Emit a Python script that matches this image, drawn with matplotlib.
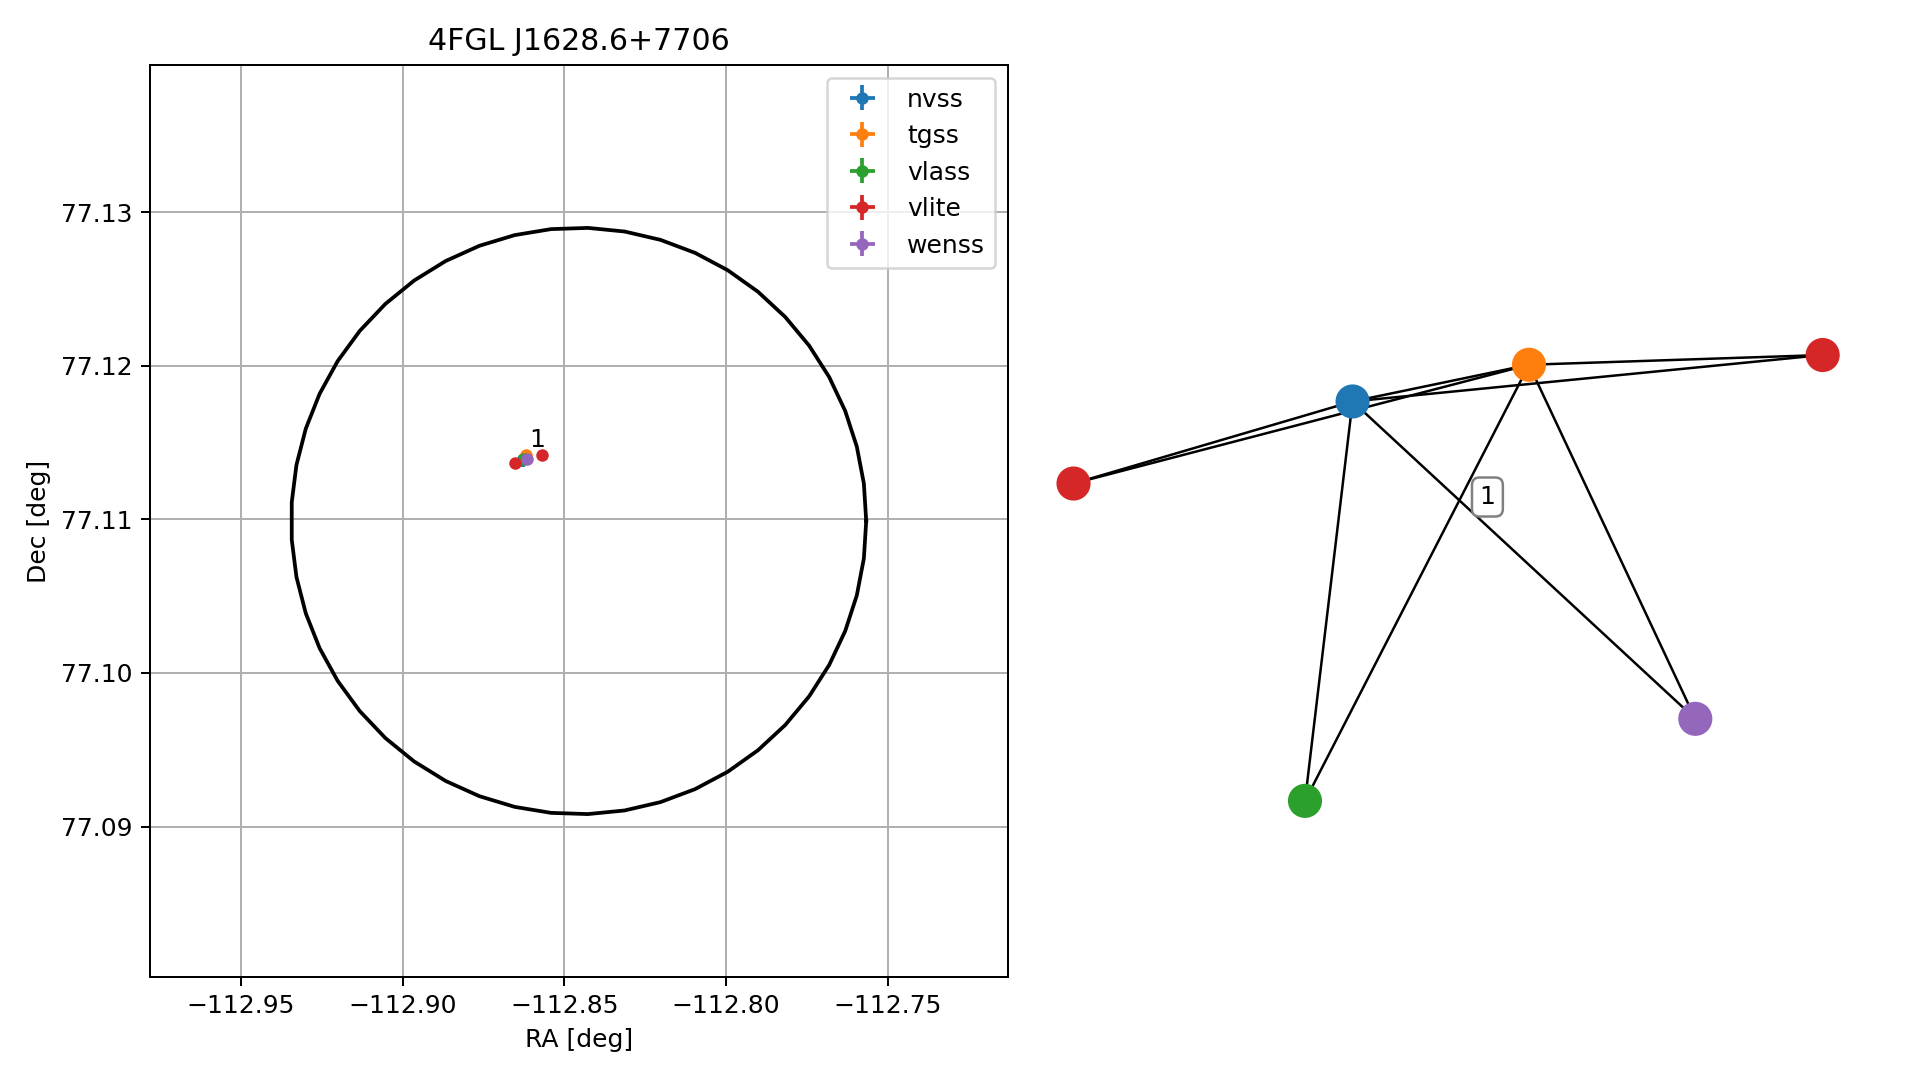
import numpy as np
import matplotlib
matplotlib.use("Agg")
import matplotlib.pyplot as plt

# radio counterparts (deg)
surveys = ["nvss", "tgss", "vlass", "vlite", "wenss"]
colors = ["tab:blue", "tab:orange", "tab:green", "tab:red", "tab:purple"]
ra_pts = [[-112.8629], [-112.8619], [-112.8624], [-112.8652, -112.8569], [-112.8617]]
dec_pts = [[77.11392], [77.11418], [77.11392], [77.11370, 77.11420], [77.11392]]
ra_err = [[0.0003], [0.0007], [0.0002], [0.0003, 0.0003], [0.0008]]
dec_err = [[0.0005], [0.0003], [0.00005], [0.00008, 0.00008], [0.0002]]

# 4FGL ellipse
src_name = "4FGL J1628.6+7706"
ell_ra, ell_dec = -112.8456, 77.1099
ell_a, ell_b = 0.0889, 0.0191
group_label = "1"
group_label_pos = (-112.8584, 77.11515)

# match graph (layout coordinates)
node_names = ["nvss", "tgss", "vlite_a", "vlite_b", "wenss", "vlass"]
node_colors = ["tab:blue", "tab:orange", "tab:red", "tab:red", "tab:purple", "tab:green"]
node_x = [-0.255, 0.216, 1.000, -1.000, 0.660, -0.382]
node_y = [0.471, 0.569, 0.595, 0.252, -0.376, -0.595]
edges = [("nvss", "tgss"), ("nvss", "vlite_a"), ("nvss", "vlite_b"), ("nvss", "wenss"),
         ("nvss", "vlass"), ("tgss", "vlite_a"), ("tgss", "vlite_b"), ("tgss", "vlass"),
         ("tgss", "wenss")]
edge_label = "1"
edge_label_pos = (0.105, 0.216)

fig = plt.figure(figsize=(10.662, 6.0), dpi=180)

ax = fig.add_axes([0.0784, 0.0954, 0.4466, 0.8444])
t = np.linspace(0, 2 * np.pi, 50)
ax.plot(ell_ra + ell_a * np.cos(t), ell_dec + ell_b * np.sin(t), color="k", lw=1.5)
for name, c, ra, dec, rerr, derr in zip(surveys, colors, ra_pts, dec_pts, ra_err, dec_err):
    ax.errorbar(ra, dec, xerr=rerr, yerr=derr, fmt="o", ms=4, color=c, label=name)
ax.text(group_label_pos[0], group_label_pos[1], group_label, ha="center", va="center")
ax.set_xlim(-112.978, -112.713)
ax.set_ylim(77.0802, 77.1396)
ax.set_xticks([-112.95, -112.90, -112.85, -112.80, -112.75])
ax.set_yticks([77.09, 77.10, 77.11, 77.12, 77.13])
ax.grid(True)
ax.set_xlabel("RA [deg]")
ax.set_ylabel("Dec [deg]")
ax.set_title(src_name)
ax.legend(loc="upper right")

gx = fig.add_axes([0.542, 0.0954, 0.4247, 0.8444])
idx = {n: i for i, n in enumerate(node_names)}
for a, b in edges:
    gx.plot([node_x[idx[a]], node_x[idx[b]]], [node_y[idx[a]], node_y[idx[b]]],
            color="k", lw=1, zorder=1)
gx.scatter(node_x, node_y, s=160, c=node_colors, zorder=2)
gx.text(edge_label_pos[0], edge_label_pos[1], edge_label, ha="center", va="center",
        bbox=dict(boxstyle="round", fc="white", ec="gray"), zorder=3)
gx.set_xlim(-1.089, 1.087)
gx.set_ylim(-1.065, 1.369)
gx.axis("off")

fig.savefig("out.png", dpi=180)
